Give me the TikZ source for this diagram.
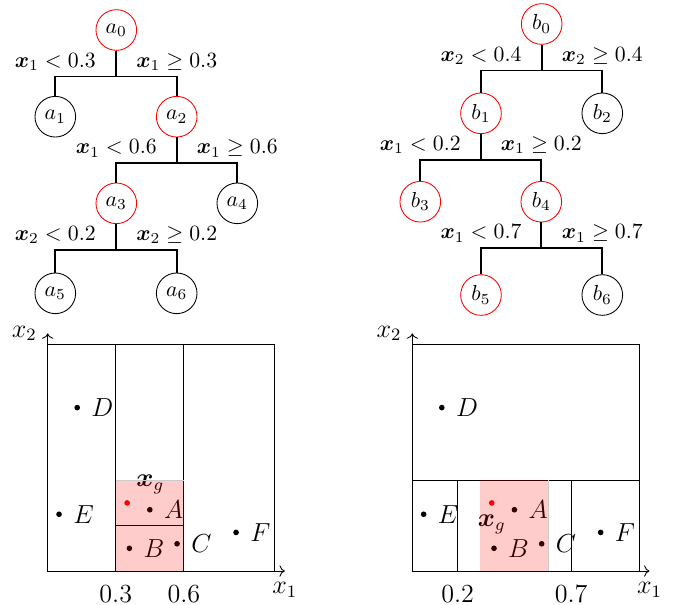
\documentclass[tikz,border=0pt]{standalone}
\usepackage{amsmath,amssymb}
\usepackage{tikz}
\usetikzlibrary{positioning,calc,arrows.meta}

\tikzset{
  tnode/.style={circle, draw, thin, minimum size=18.7pt, inner sep=0pt},
  hit/.style={tnode, draw=red},
  cond/.style={above, inner sep=2.6pt},
  branch/.style={thick},
  plotfont/.style={font=\fontsize{11.5}{14}\selectfont},
  lbl/.style={right=3pt, text=black}
}

\begin{document}
\begin{tikzpicture}[x=0.46pt, y=-0.46pt]
  \useasboundingbox (0,0) rectangle (678,604);

  % Tree A
  \node[hit]   (a0) at (116.3, 30.0)  {$a_0$};
  \node[tnode] (a1) at (55.3, 116.7)  {$a_1$};
  \node[hit]   (a2) at (176.7, 116.7) {$a_2$};
  \node[hit]   (a3) at (116.3, 203.3) {$a_3$};
  \node[tnode] (a4) at (237.3, 203.3) {$a_4$};
  \node[tnode] (a5) at (55.3, 293.3)  {$a_5$};
  \node[tnode] (a6) at (176.7, 293.3) {$a_6$};

  % Tree B
  \node[hit]   (b0) at (541.7, 24.0)  {$b_0$};
  \node[hit]   (b1) at (481.0, 113.3) {$b_1$};
  \node[tnode] (b2) at (602.3, 113.3) {$b_2$};
  \node[hit]   (b3) at (420.3, 201.7) {$b_3$};
  \node[hit]   (b4) at (541.3, 201.7) {$b_4$};
  \node[hit]   (b5) at (481.0, 295.0) {$b_5$};
  \node[tnode] (b6) at (602.3, 295.0) {$b_6$};

  % Branches
  \foreach \p/\l/\r in {a0/a1/a2, a2/a3/a4, a3/a5/a6, b0/b1/b2, b1/b3/b4, b4/b5/b6} {
    \draw[branch] (\p.south) -- ++(0,25.7) coordinate (\p-bar) -| (\l.north);
    \draw[branch] (\p-bar) -| (\r.north);
  }

  % Split conditions
  \node[cond] (c01) at (a1.north |- a0-bar) {$\boldsymbol{x}_1 < 0.3$};
  \node[cond] (c02) at (a2.north |- a0-bar) {$\boldsymbol{x}_1 \geq 0.3$};
  \node[cond] (c23) at (a3.north |- a2-bar) {$\boldsymbol{x}_1 < 0.6$};
  \node[cond] (c24) at (a4.north |- a2-bar) {$\boldsymbol{x}_1 \geq 0.6$};
  \node[cond] (c35) at (a5.north |- a3-bar) {$\boldsymbol{x}_2 < 0.2$};
  \node[cond] (c36) at (a6.north |- a3-bar) {$\boldsymbol{x}_2 \geq 0.2$};
  \node[cond] (d01) at (b1.north |- b0-bar) {$\boldsymbol{x}_2 < 0.4$};
  \node[cond] (d02) at (b2.north |- b0-bar) {$\boldsymbol{x}_2 \geq 0.4$};
  \node[cond] (d13) at (b3.north |- b1-bar) {$\boldsymbol{x}_1 < 0.2$};
  \node[cond] (d14) at (b4.north |- b1-bar) {$\boldsymbol{x}_1 \geq 0.2$};
  \node[cond] (d45) at (b5.north |- b4-bar) {$\boldsymbol{x}_1 < 0.7$};
  \node[cond] (d46) at (b6.north |- b4-bar) {$\boldsymbol{x}_1 \geq 0.7$};

  % Partition of tree A
  \begin{scope}[shift={(47.7,571)}, x=104.4pt, y=104.4pt, plotfont]
    \draw (0,0) rectangle (1,1);
    \draw (0.3,0) -- (0.3,1);
    \draw (0.6,0) -- (0.6,1);
    \draw (0.3,0.2) -- (0.6,0.2);
    \draw[->] (0,0) -- (1.045,0) node[below=1.5pt] (ax1) {$x_1$};
    \draw[->] (0,0) -- (0,1.047) node[left=1.5pt] (ax2) {$x_2$};
    \node[below=3pt] (t03) at (0.3,0) {$0.3$};
    \node[below=3pt] (t06) at (0.6,0) {$0.6$};
    \foreach \n/\x/\y in {A/0.45/0.27, B/0.36/0.10, C/0.57/0.12, D/0.13/0.72, E/0.05/0.25, F/0.83/0.17} {
      \fill (\x,\y) circle (1.3pt) node[lbl] (pa\n) {$\n$};
    }
    \fill[red] (0.35,0.30) circle (1.3pt) node[lbl, above right=1pt] (pag) {$\boldsymbol{x}_g$};
    \fill[red, fill opacity=0.2] (0.3,0) rectangle (0.6,0.4);
    \draw[black!20] (0.3,0.4) -- (0.6,0.4);
  \end{scope}

  % Partition of tree B
  \begin{scope}[shift={(412.3,571)}, x=104.4pt, y=104.4pt, plotfont]
    \draw (0,0) rectangle (1,1);
    \draw (0,0.4) -- (1,0.4);
    \draw (0.2,0) -- (0.2,0.4);
    \draw (0.7,0) -- (0.7,0.4);
    \draw[->] (0,0) -- (1.045,0) node[below=1.5pt] (bx1) {$x_1$};
    \draw[->] (0,0) -- (0,1.047) node[left=1.5pt] (bx2) {$x_2$};
    \node[below=3pt] (t02) at (0.2,0) {$0.2$};
    \node[below=3pt] (t07) at (0.7,0) {$0.7$};
    \foreach \n/\x/\y in {A/0.45/0.27, B/0.36/0.10, C/0.57/0.12, D/0.13/0.72, E/0.05/0.25, F/0.83/0.17} {
      \fill (\x,\y) circle (1.3pt) node[lbl] (pb\n) {$\n$};
    }
    \fill[red] (0.35,0.30) circle (1.3pt) node[lbl, below=2pt] (pbg) {$\boldsymbol{x}_g$};
    \fill[red, fill opacity=0.2] (0.3,0) rectangle (0.6,0.4);
    \draw[black!20] (0.6,0) -- (0.6,0.4);
  \end{scope}
\end{tikzpicture}
\end{document}
